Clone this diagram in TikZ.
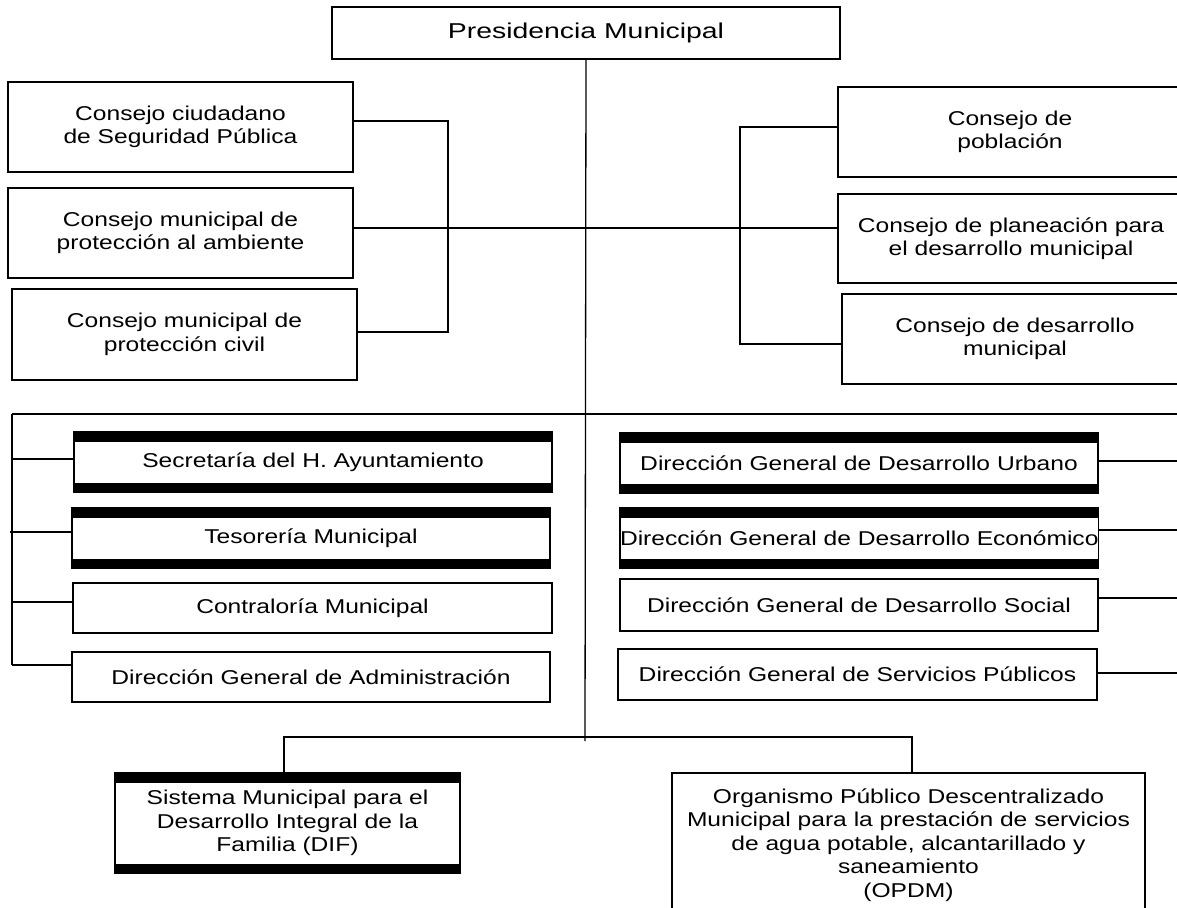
\documentclass[tikz,border=0pt]{standalone}
\usepackage{fontspec}
\setmainfont{Liberation Sans}[FakeStretch=1.23]
\newfontfamily\headfont{Liberation Sans}[FakeStretch=1.32]
\begin{document}
\begin{tikzpicture}[x=1pt,y=-1pt,
  every node/.style={inner sep=0pt, outer sep=0pt, anchor=north west, align=center,
                     font=\fontsize{20}{23.5}\selectfont},
  unit/.style={draw, line width=1.3pt},
  barunit/.style={unit, path picture={
      \fill (path picture bounding box.north west) rectangle ([yshift=-9.5pt]path picture bounding box.north east);
      \fill (path picture bounding box.south west) rectangle ([yshift=9.5pt]path picture bounding box.south east);}},
  link/.style={line width=1.3pt}]
\clip (0,0) rectangle (1177,907);

% head
\node[unit, minimum width=508pt, minimum height=52pt, font=\headfont\fontsize{21.5}{24}\selectfont] (pres) at (332,7) {Presidencia Municipal};

% advisory councils, left
\node[unit, minimum width=345pt, minimum height=90pt] (c1) at (8,82) {Consejo ciudadano\\de Seguridad Pública};
\node[unit, minimum width=345pt, minimum height=90pt] (c2) at (8,188) {Consejo municipal de\\protección al ambiente};
\node[unit, minimum width=345pt, minimum height=91pt] (c3) at (12,289) {Consejo municipal de\\protección civil};

% advisory councils, right
\node[unit, minimum width=344pt, minimum height=90pt] (r1) at (838,87) {Consejo de\\población};
\node[unit, minimum width=346pt, minimum height=89pt] (r2) at (838,194) {Consejo de planeación para\\el desarrollo municipal};
\node[unit, minimum width=346pt, minimum height=90pt] (r3) at (842,294) {Consejo de desarrollo\\municipal};

% departments, left
\node[barunit, minimum width=478pt, minimum height=60pt] (s1) at (74,432) {Secretaría del H. Ayuntamiento};
\node[barunit, minimum width=478pt, minimum height=60pt] (s2) at (72,508) {Tesorería Municipal};
\node[unit, minimum width=479pt, minimum height=50pt] (s3) at (73,583) {Contraloría Municipal};
\node[unit, minimum width=478pt, minimum height=50pt] (s4) at (72,652) {Dirección General de Administración};

% departments, right
\node[barunit, minimum width=478pt, minimum height=60pt] (d1) at (620,433) {Dirección General de Desarrollo Urbano};
\node[barunit, minimum width=478pt, minimum height=60pt] (d2) at (620,508) {Dirección General de Desarrollo Económico};
\node[unit, minimum width=478pt, minimum height=52pt] (d3) at (620,579) {Dirección General de Desarrollo Social};
\node[unit, minimum width=479pt, minimum height=51pt] (d4) at (618,649) {Dirección General de Servicios Públicos};

% decentralised bodies
\node[barunit, minimum width=345pt, minimum height=100pt] (dif) at (115,773) {Sistema Municipal para el\\Desarrollo Integral de la\\Familia (DIF)};
\node[unit, minimum width=473pt, minimum height=144pt] (opdm) at (672,773) {Organismo Público Descentralizado\\Municipal para la prestación de servicios\\de agua potable, alcantarillado y\\saneamiento\\(OPDM)};

% junction points
\coordinate (lbt) at (448,121);
\coordinate (lbb) at (448,332);
\coordinate (hm)  at (585,228);
\coordinate (rbt) at (740,127);
\coordinate (rbb) at (740,344);
\coordinate (spine) at (585,741);
\coordinate (mbl) at (12,414);
\coordinate (mbr) at (1177,414);
\coordinate (lb1) at (12,459);
\coordinate (lb2) at (10,532);
\coordinate (lb3) at (12,602);
\coordinate (lb4) at (12,665);
\coordinate (re1) at (1177,461);
\coordinate (re2) at (1177,530);
\coordinate (re3) at (1177,598);
\coordinate (re4) at (1177,673);
\coordinate (bl) at (284,737);
\coordinate (br) at (912,737);

% spine
\draw[link] (pres.south) -- (spine);

% council brackets
\draw[link] (c1.east |- lbt) -- (lbt) -- (lbb) -- (c3.east |- lbb);
\draw[link] (c2.east |- hm) -- (r2.west |- hm);
\draw[link] (r1.west |- rbt) -- (rbt) -- (rbb) -- (r3.west |- rbb);

% department bus
\draw[link] (mbl) -- (mbr);
\draw[link] (mbl) -- (lb4);
\draw[link] (lb1) -- (s1.west |- lb1);
\draw[link] (lb2) -- (s2.west |- lb2);
\draw[link] (lb3) -- (s3.west |- lb3);
\draw[link] (lb4) -- (s4.west |- lb4);
\draw[link] (d1.east |- re1) -- (re1);
\draw[link] (d2.east |- re2) -- (re2);
\draw[link] (d3.east |- re3) -- (re3);
\draw[link] (d4.east |- re4) -- (re4);

% bottom branch
\draw[link] (bl |- dif.north) -- (bl) -- (br) -- (br |- opdm.north);
\end{tikzpicture}
\end{document}
